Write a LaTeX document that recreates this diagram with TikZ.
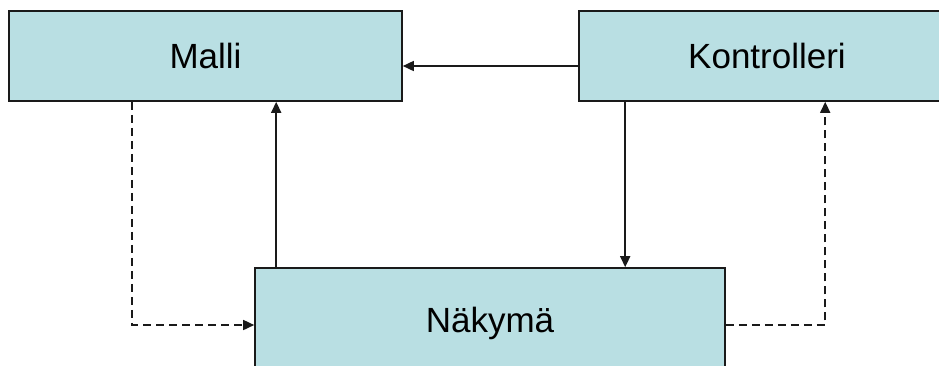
\documentclass[tikz,border=0pt]{standalone}
\usepackage{fontspec}
\setmainfont{Liberation Sans}
\definecolor{MVCcyan}{HTML}{B9DFE3}
\definecolor{MVCline}{HTML}{1A1A1A}
\usetikzlibrary{arrows.meta, positioning}

\tikzset{
   mvcbox/.style={draw=MVCline, line width=1.6pt, fill=MVCcyan,
      font=\fontsize{35}{42}\selectfont, text height=25pt, text depth=0pt},
   flow/.style={-{Triangle[length=11pt, width=10pt]}, line width=1.6pt, MVCline},
   notify/.style={flow, dash pattern=on 8pt off 5pt}
}

\begin{document}
\begin{tikzpicture}[x=1pt, y=-1pt]
            \path[use as bounding box, clip] (0,0) rectangle (939,365);
            % the three boxes
            \node[mvcbox, minimum width=393pt, minimum height=90pt] (malli) at (205.5,56) {Malli};
            \node[mvcbox, minimum width=376pt, minimum height=90pt] (kontrolleri) at (767,56) {Kontrolleri};
            \node[mvcbox, minimum width=470pt, minimum height=104pt] (nakyma) at (490,320) {Näkymä};
            % solid arrows
            \draw[flow] ([yshift=-10pt]kontrolleri.west) -- ([yshift=-10pt]malli.east);
            \draw[flow] ([xshift=22pt]nakyma.north west) -- ([xshift=22pt]nakyma.north west |- malli.south);
            \draw[flow] ([xshift=47pt]kontrolleri.south west) -- ([xshift=47pt]kontrolleri.south west |- nakyma.north);
            % dashed arrows
            \draw[notify] ([xshift=124pt]malli.south west) |- ([yshift=-5pt]nakyma.west);
            \draw[notify] ([yshift=-5pt]nakyma.east) -| ([xshift=247pt]kontrolleri.south west);
         \end{tikzpicture}
\end{document}
